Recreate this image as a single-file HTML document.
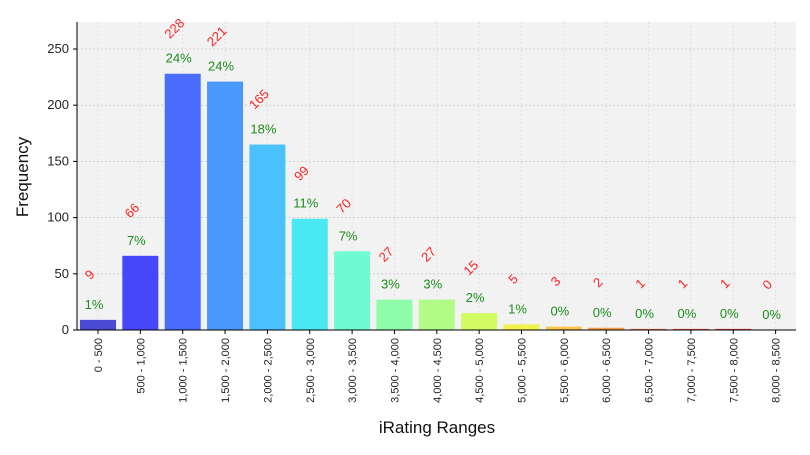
<!DOCTYPE html>
<html><head><meta charset="utf-8"><style>
body{margin:0;background:#fff;font-family:"Liberation Sans","DejaVu Sans",sans-serif}
</style></head><body>
<svg id="c" width="810" height="450" xmlns="http://www.w3.org/2000/svg"></svg>
<script>
const categories=["0 - 500","500 - 1,000","1,000 - 1,500","1,500 - 2,000","2,000 - 2,500","2,500 - 3,000","3,000 - 3,500","3,500 - 4,000","4,000 - 4,500","4,500 - 5,000","5,000 - 5,500","5,500 - 6,000","6,000 - 6,500","6,500 - 7,000","7,000 - 7,500","7,500 - 8,000","8,000 - 8,500"];
const counts=[9,66,228,221,165,99,70,27,27,15,5,3,2,1,1,1,0];
const percents=["1%","7%","24%","24%","18%","11%","7%","3%","3%","2%","1%","0%","0%","0%","0%","0%","0%"];
const yTicks=[0,50,100,150,200,250];
const colors=["#4a4ad6","#4646fa","#4a6cfc","#4a98fc","#4ac0fc","#4ae8f2","#6ffad2","#8ffcaa","#b0fc86","#d2fa62","#f2f24a","#fcc44a","#fc9c4a","#f87048","#f25048","#e04040","#c03030"];
const NS="http://www.w3.org/2000/svg";
const svg=document.getElementById('c');
const L=77,R=796,T=22,B=330;
const y=v=>B-v*(281/250);
const x=i=>98+i*42.35;
function mk(tag,attrs,parent){const e=document.createElementNS(NS,tag);for(const k in attrs)e.setAttribute(k,attrs[k]);(parent||svg).appendChild(e);return e;}
const bg=mk('rect',{x:L,y:T,width:R-L,height:B-T,fill:'#f2f2f2'});


yTicks.forEach(t=>{
  const g=mk('line',{x1:L,x2:R,y1:y(t),y2:y(t),stroke:'#c8c8c8','stroke-dasharray':'2,2','stroke-width':0.8});
  
  
  mk('line',{x1:L-4,x2:L,y1:y(t),y2:y(t),stroke:'#000'});
  const tx=mk('text',{x:L-8,y:y(t)+4,'text-anchor':'end','font-size':13,fill:'#222'});
  tx.textContent=t;
  
  
});
categories.forEach((c,i)=>{
  const g=mk('line',{x1:x(i),x2:x(i),y1:T,y2:B,stroke:'#dcdcdc','stroke-dasharray':'2,2','stroke-width':0.8});
  
  
});
categories.forEach((c,i)=>{
  const top=y(counts[i]);
  const b=mk('rect',{x:x(i)-18,y:top,width:36,height:B-top,fill:colors[i]});
  
  
  const p=mk('text',{x:x(i)-4,y:top-11,'text-anchor':'middle','font-size':13,fill:'#1a8c1a'});
  p.textContent=percents[i];
  
  
  const cx=x(i)-8,cy=top-45;
  const n=mk('text',{x:cx,y:cy+4,'text-anchor':'middle','font-size':13,fill:'#ff2020',transform:`rotate(-45 ${cx} ${cy})`});
  n.textContent=counts[i];
  
  
  mk('line',{x1:x(i),x2:x(i),y1:B,y2:B+4,stroke:'#000'});
  const tl=mk('text',{x:0,y:0,'text-anchor':'end','font-size':11,fill:'#222',transform:`translate(${x(i)+4},${B+8}) rotate(-90)`});
  tl.textContent=c;
  
  
});
mk('line',{x1:L,x2:L,y1:T,y2:B,stroke:'#000'});
mk('line',{x1:L,x2:R,y1:B,y2:B,stroke:'#000'});
const yt=mk('text',{x:0,y:0,'text-anchor':'middle','font-size':17,fill:'#111',transform:'translate(28,177) rotate(-90)'});
yt.textContent='Frequency';


const xt=mk('text',{x:437,y:433,'text-anchor':'middle','font-size':17,fill:'#111'});
xt.textContent='iRating Ranges';


</script>
</body></html>
